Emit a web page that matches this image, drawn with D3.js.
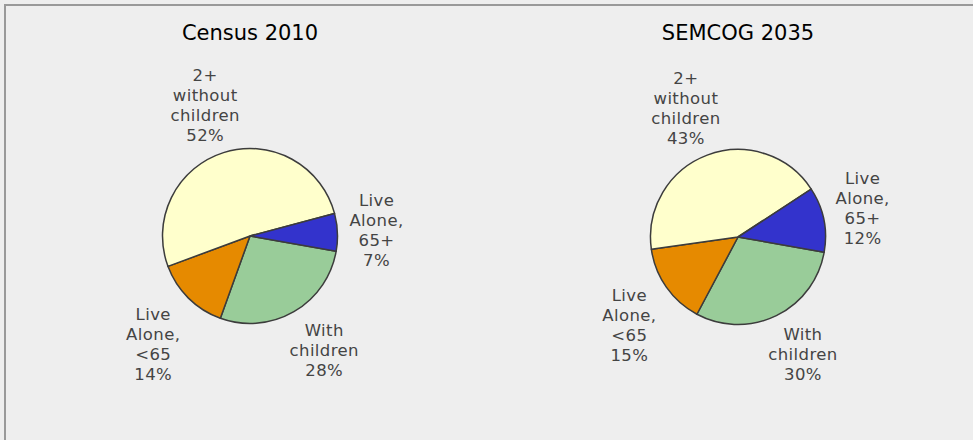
<!DOCTYPE html>
<html>
<head>
<meta charset="utf-8">
<script src="https://cdn.jsdelivr.net/npm/d3@7"></script>
<style>
  body { margin: 0; background: #fff; }
  svg { display: block; }
</style>
</head>
<body>
<svg></svg>
<script>
// categories in clockwise order, starting from the green slice
var categories = ["With children", "Live Alone, <65", "2+ without children", "Live Alone, 65+"]
var labelLines = [["With", "children"], ["Live", "Alone,", "<65"], ["2+", "without", "children"], ["Live", "Alone,", "65+"]]
var colors = ["#99cc99", "#e68a00", "#ffffcc", "#3333cc"]

var titles = ["Census 2010", "SEMCOG 2035"]
var census2010 = [28, 14, 52, 7]
var semcog2035 = [30, 15, 43, 12]
var series = [census2010, semcog2035]

var width = 973;
var height = 440;
var radius = 87.5;
var centers = [[250, 236], [738, 237]];
var labelGap = 12;
var lineHeight = 20;

var svg = d3.select("svg")
    .attr("width", width)
    .attr("height", height)

// panel background with border on top and left
svg.append("rect")
    .attr("x", 0).attr("y", 0)
    .attr("width", width).attr("height", height)
    .attr("fill", "#eeeeee")

svg.append("path")
    .attr("d", "M5," + height + "V5H" + width)
    .attr("fill", "none")
    .attr("stroke", "#999999")
    .attr("stroke-width", 2)

var pie = d3.pie()
    .sort(null)
    .startAngle(100 * Math.PI / 180)
    .endAngle(460 * Math.PI / 180);

var arc = d3.arc().innerRadius(0).outerRadius(radius);

function drawPie(values, index) {
    var cx = centers[index][0];
    var cy = centers[index][1];

    var g = svg.append("g")
        .attr("transform", "translate(" + cx + "," + cy + ")")

    svg.append("text")
        .attr("x", cx)
        .attr("y", 40)
        .attr("text-anchor", "middle")
        .style("font-family", "DejaVu Sans, Verdana, sans-serif")
        .style("font-size", "21px")
        .attr("fill", "#000")
        .text(titles[index])

    var arcs = pie(values);

    g.selectAll("path")
        .data(arcs)
        .enter()
        .append("path")
        .attr("d", arc)
        .attr("fill", (d, i) => colors[i])
        .attr("stroke", "#3c3c3c")
        .attr("stroke-width", 1.5)
        .attr("stroke-linejoin", "round")

    arcs.forEach(function(d, i) {
        var a = (d.startAngle + d.endAngle) / 2;
        var sx = Math.sin(a);
        var sy = -Math.cos(a);
        var lines = labelLines[i].concat([values[i] + "%"]);

        var t = g.append("text")
            .attr("text-anchor", "middle")
            .style("font-family", "DejaVu Sans, Verdana, sans-serif")
            .style("font-size", "16.5px")
            .style("letter-spacing", "0.4px")
            .attr("fill", "#444444")

        lines.forEach(function(l, j) {
            t.append("tspan")
                .attr("x", 0)
                .attr("y", j * lineHeight)
                .text(l)
        });

        var box = t.node().getBBox();
        var w = box.width;
        var h = (lines.length - 1) * lineHeight + 14;

        var f = v => Math.sign(v) * Math.min(1, Math.abs(v) * 1.4);
        var px = (radius + labelGap) * sx + f(sx) * w / 2;
        var py = (radius + labelGap) * sy + f(sy) * h / 2;

        // py is the block centre; first baseline sits above it
        var top = py - h / 2 + 14;
        t.attr("transform", "translate(" + px + "," + top + ")")
    });
}

series.forEach(drawPie);
</script>
</body>
</html>
